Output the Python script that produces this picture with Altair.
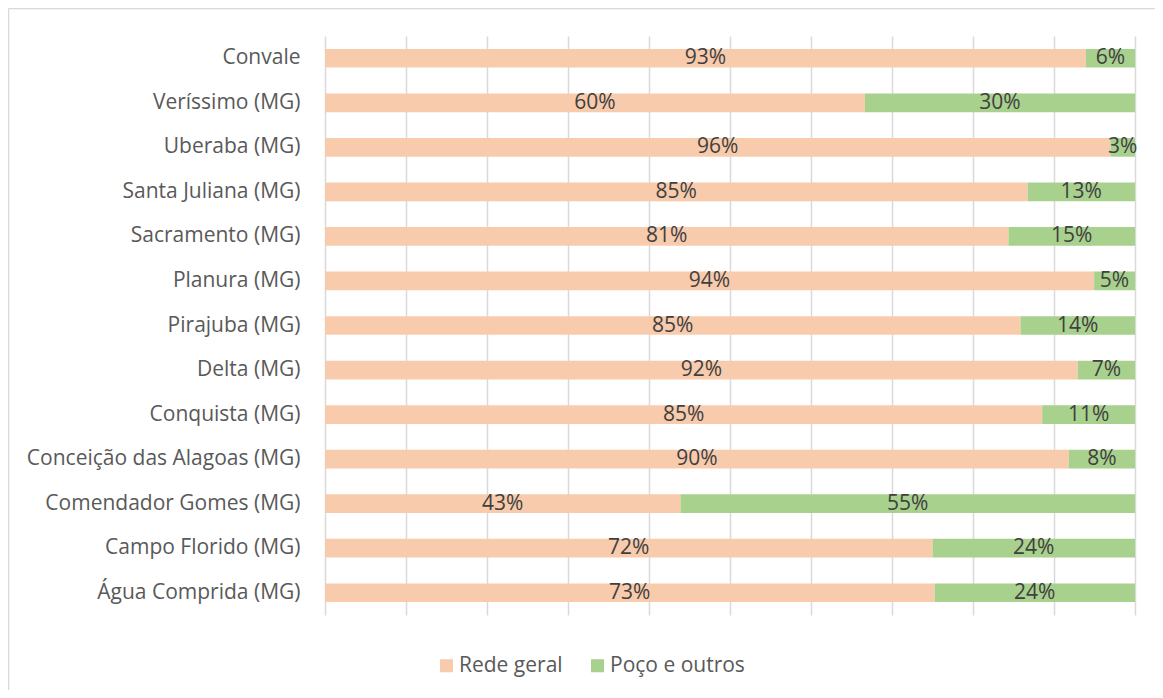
import altair as alt
import pandas as pd

categories = [
    "Convale", "Veríssimo (MG)", "Uberaba (MG)", "Santa Juliana (MG)",
    "Sacramento (MG)", "Planura (MG)", "Pirajuba (MG)", "Delta (MG)",
    "Conquista (MG)", "Conceição das Alagoas (MG)", "Comendador Gomes (MG)",
    "Campo Florido (MG)", "Água Comprida (MG)",
]
rede_geral = [93, 60, 96, 85, 81, 94, 85, 92, 85, 90, 43, 72, 73]
poco_outros = [6, 30, 3, 13, 15, 5, 14, 7, 11, 8, 55, 24, 24]
series = ["Rede geral", "Poço e outros"]
colors = ["#F8CBAD", "#A9D18E"]
grid_ticks = [0, 0.1, 0.2, 0.3, 0.4, 0.5, 0.6, 0.7, 0.8, 0.9, 1.0]

rows = []
for c, r, p in zip(categories, rede_geral, poco_outros):
    rows.append({"cat": c, "serie": series[0], "order": 0, "value": r})
    rows.append({"cat": c, "serie": series[1], "order": 1, "value": p})
df = pd.DataFrame(rows)

FONT = "Open Sans"
FS = 21

base = alt.Chart(df).transform_stack(
    stack="value", groupby=["cat"], as_=["v0", "v1"], offset="normalize",
    sort=[alt.SortField(field="order", order="ascending")],
).transform_calculate(
    mid="(datum.v0 + datum.v1) / 2", label="datum.value + '%'"
)

y_enc = alt.Y(
    "cat:N", sort=categories,
    scale=alt.Scale(paddingInner=0.58, paddingOuter=0.29),
    axis=alt.Axis(title=None, ticks=False, domain=False, labelPadding=25,
                  labelFontSize=FS, labelColor="#595959", labelFont=FONT,
                  labelLimit=400),
)

bars = base.mark_bar().encode(
    y=y_enc,
    x=alt.X("v0:Q", scale=alt.Scale(domain=[0, 1], nice=False),
            axis=alt.Axis(values=grid_ticks, grid=True, gridColor="#d9d9d9",
                          gridWidth=1.5, labels=False, ticks=False, domain=False,
                          title=None)),
    x2="v1:Q",
    color=alt.Color("serie:N", sort=series,
                    scale=alt.Scale(domain=series, range=colors),
                    legend=alt.Legend(title=None, orient="none", direction="horizontal",
                                      legendX=111, legendY=619, symbolType="square",
                                      symbolSize=170, symbolStrokeWidth=0,
                                      labelFontSize=FS, labelColor="#595959",
                                      labelFont=FONT, labelOffset=2, columnPadding=24,
                                      padding=0, labelLimit=300)),
)

texts = base.mark_text(fontSize=FS, color="#404040", font=FONT, baseline="middle").encode(
    y=alt.Y("cat:N", sort=categories),
    x=alt.X("mid:Q"),
    text="label:N",
)

frame_df = pd.DataFrame({"k": [0]})
top_line = alt.Chart(frame_df).mark_rule(color="#d9d9d9", strokeWidth=1.5).encode(
    x=alt.value(-316.5), x2=alt.value(2000), y=alt.value(-27.5)
)
left_line = alt.Chart(frame_df).mark_rule(color="#d9d9d9", strokeWidth=1.5).encode(
    x=alt.value(-316.5), y=alt.value(-27.5), y2=alt.value(2000)
)

chart = alt.layer(bars, texts, top_line, left_line).properties(
    width=810, height=579,
    autosize=alt.AutoSizeParams(type="none"),
    padding={"left": 317, "top": 28, "right": 20, "bottom": 75},
).configure_view(stroke=None)

chart.save("out.html", embed_options={"renderer": "svg", "actions": False})
